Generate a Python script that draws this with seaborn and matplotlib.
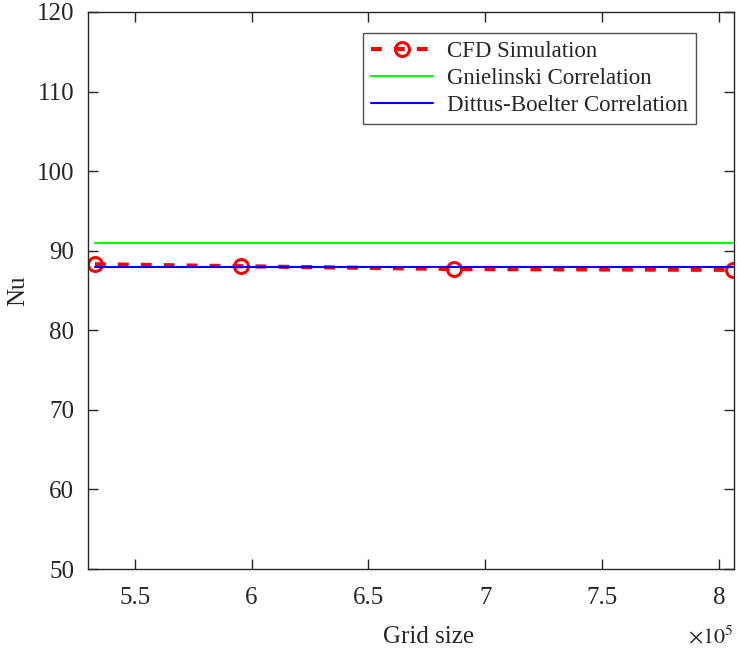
import matplotlib
matplotlib.use("Agg")
import matplotlib.pyplot as plt
import seaborn as sns
import pandas as pd
import numpy as np

# Data (grid size in units of 1e5)
grid_size = [5.33, 5.955, 6.868, 8.06]
nu_cfd = [88.3, 88.05, 87.7, 87.6]
nu_gnielinski = [90.95, 90.95, 90.95, 90.95]
nu_dittus = [87.93, 87.93, 87.93, 87.93]

sns.set_theme(style="white")
plt.rcParams['font.family'] = ['Liberation Serif', 'DejaVu Serif']
plt.rcParams['mathtext.fontset'] = 'stix'

fig = plt.figure(figsize=(7.37, 6.57), dpi=100)
ax = fig.add_axes([88/737, 1-569/657, (734-88)/737, (569-12)/657])

df = pd.DataFrame({"x": grid_size, "cfd": nu_cfd, "gn": nu_gnielinski, "db": nu_dittus})

sns.lineplot(data=df, x="x", y="cfd", ax=ax, color="#ff0000", linewidth=3,
             linestyle=(0, (2.6, 2.9)), marker="o", markersize=10, markerfacecolor="none",
             markeredgecolor="#ff0000", markeredgewidth=2.2, label="CFD Simulation")
sns.lineplot(data=df, x="x", y="gn", ax=ax, color="#00ff00", linewidth=1.5,
             label="Gnielinski Correlation")
sns.lineplot(data=df, x="x", y="db", ax=ax, color="#0000ff", linewidth=1.5,
             label="Dittus-Boelter Correlation")

ax.set_xlim(5.3, 8.064)
ax.set_ylim(50, 120)
ax.set_xticks([5.5, 6, 6.5, 7, 7.5, 8])
ax.set_xticklabels(["5.5", "6", "6.5", "7", "7.5", "8"])
ax.set_yticks([50, 60, 70, 80, 90, 100, 110, 120])

ax.tick_params(direction="in", length=7, width=1, colors="#262626", labelsize=18,
               top=True, right=True, bottom=True, left=True)
ax.tick_params(axis="x", pad=13)
ax.tick_params(axis="y", pad=10)
for s in ax.spines.values():
    s.set_color("#262626")
    s.set_linewidth(1.0)
    s.set_visible(True)

ax.set_xlabel("Grid size", fontsize=18, color="#262626")
ax.set_ylabel("Nu", fontsize=18, color="#262626")
ax.xaxis.set_label_coords(0.527, -0.122)
ax.yaxis.set_label_coords(-0.108, 0.5)
ax.xaxis.label.set_va("center")
ax.yaxis.label.set_va("center")
ax.text(1.0, -0.122, r"$\times10^{5}$", transform=ax.transAxes, ha="right", va="center",
        fontsize=16, color="#262626")

leg = ax.legend(loc="upper right", bbox_to_anchor=((696-88)/646, (569-33)/557),
                borderaxespad=0, fontsize=16.5, frameon=True, fancybox=False,
                handlelength=2.7, borderpad=0.35, labelspacing=0.25, handletextpad=0.6)
leg.get_frame().set_edgecolor("#262626")
leg.get_frame().set_linewidth(1.0)
for t in leg.get_texts():
    t.set_color("#262626")

fig.savefig("out.png", dpi=100)
